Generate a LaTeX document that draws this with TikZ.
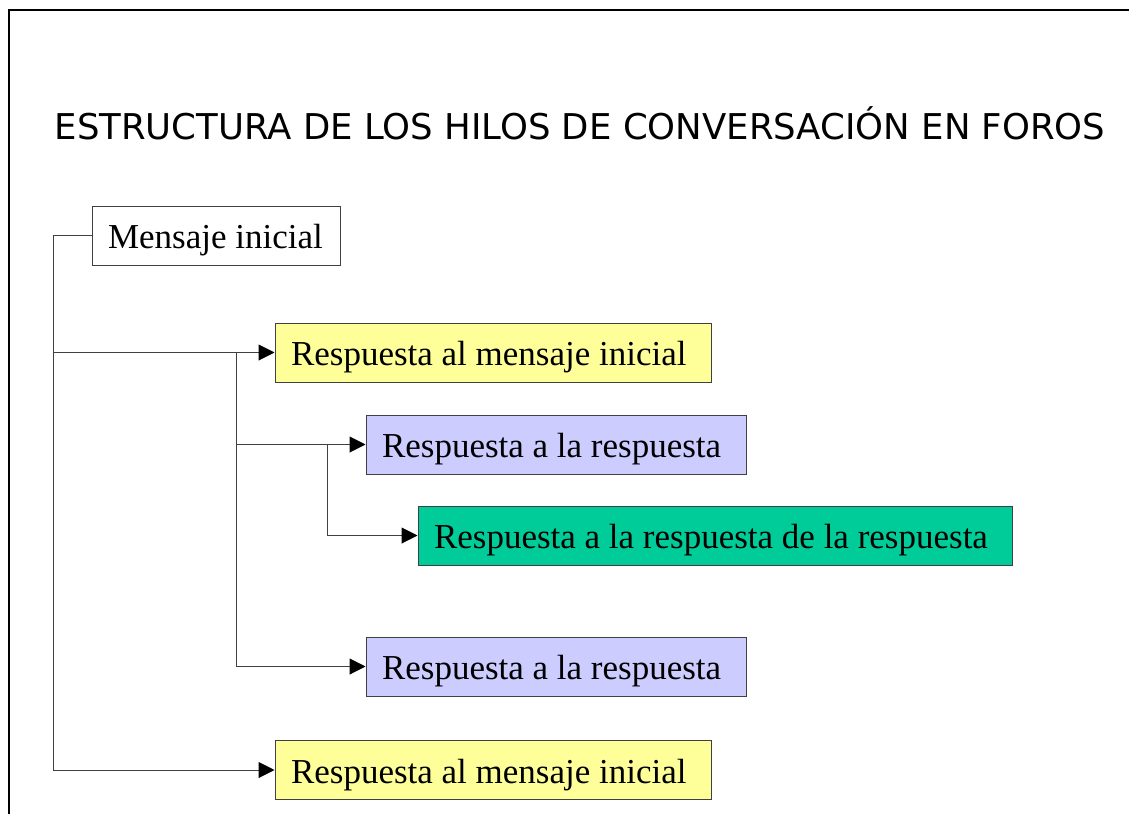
\documentclass[tikz,border=0pt]{standalone}
\usepackage{fontspec}
\setmainfont{Liberation Serif}
\newfontfamily\titlefont{DejaVu Sans}
\usetikzlibrary{arrows.meta}
\usetikzlibrary{positioning}
\definecolor{msgyellow}{HTML}{FFFF99}
\definecolor{msgblue}{HTML}{CCCCFF}
\definecolor{msggreen}{HTML}{00CC99}
\definecolor{linegray}{HTML}{404040}
\tikzset{post/.style={draw=linegray, line width=1pt, minimum height=59pt, inner ysep=0pt, inner xsep=16pt,
                      font=\fontsize{35}{40}\selectfont, text height=27pt, text depth=1pt},
         reply/.style={post, fill=msgyellow},
         subreply/.style={post, fill=msgblue},
         subsubreply/.style={post, fill=msggreen},
         link/.style={draw=linegray, line width=1pt},
         arr/.style={link, -{Triangle[length=16pt, width=16pt, color=black]}}}

\begin{document}
\begin{tikzpicture}[x=1pt, y=-1pt]
  \useasboundingbox (0,0) rectangle (1129,814);
  \draw[line width=2.5pt] (9,814) -- (9,10) -- (1129,10);
  \node[font=\titlefont\fontsize{35.5}{40}\selectfont, anchor=base] (title) at (580,139)
    {ESTRUCTURA DE LOS HILOS DE CONVERSACIÓN EN FOROS};
  \node[post, fill=white] (M) at (216,235.5) {\makebox[216pt][l]{Mensaje inicial}};
  \node[reply] (R1) at (493,352.5) {\makebox[404pt][l]{Respuesta al mensaje inicial}};
  \node[subreply] (R2) at (556,444.5) {\makebox[348pt][l]{Respuesta a la respuesta}};
  \node[subsubreply] (R3) at (715,535.5) {\makebox[562pt][l]{Respuesta a la respuesta de la respuesta}};
  \node[subreply] (R4) at (556,666.5) {\makebox[348pt][l]{Respuesta a la respuesta}};
  \node[reply] (R5) at (493,770) {\makebox[404pt][l]{Respuesta al mensaje inicial}};
  \coordinate (T0) at (53,235.5);
  \coordinate (T1) at (236,352.5);
  \coordinate (T2) at (327,444.5);
  \draw[link] (M.west) -- (T0);
  \draw[arr] (T0) |- (R5.west);
  \draw[arr] (T0 |- R1.west) -- (R1.west);
  \draw[arr] (T1) |- (R4.west);
  \draw[arr] (T1 |- R2.west) -- (R2.west);
  \draw[arr] (T2) |- (R3.west);
\end{tikzpicture}
\end{document}
